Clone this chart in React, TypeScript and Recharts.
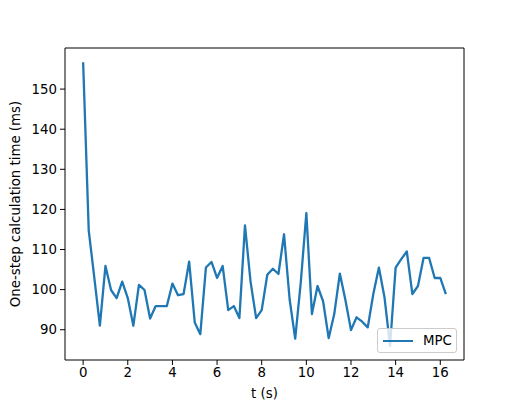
import { LineChart, Line, XAxis, YAxis, Legend, ReferenceLine } from "recharts";

const timeS = [
  0, 0.25, 0.5, 0.75, 1, 1.25, 1.5, 1.75, 2, 2.25, 2.5, 2.75, 3, 3.25, 3.5, 3.75,
  4, 4.25, 4.5, 4.75, 5, 5.25, 5.5, 5.75, 6, 6.25, 6.5, 6.75, 7, 7.25, 7.5, 7.75,
  8, 8.25, 8.5, 8.75, 9, 9.25, 9.5, 9.75, 10, 10.25, 10.5, 10.75, 11, 11.25, 11.5, 11.75,
  12, 12.25, 12.5, 12.75, 13, 13.25, 13.5, 13.75, 14, 14.25, 14.5, 14.75, 15, 15.25, 15.5, 15.75,
  16, 16.25,
];

const mpcMs = [
  156.7, 114.8, 103.0, 91.0, 105.9, 99.9, 97.9, 102.0, 97.9, 91.0, 101.2, 99.9, 92.8, 95.9, 95.9, 95.9,
  101.5, 98.6, 98.9, 107.0, 91.8, 88.9, 105.5, 106.9, 102.9, 105.9, 94.9, 95.9, 92.9, 116.0, 102.0, 92.9,
  94.9, 103.7, 105.2, 103.9, 113.8, 97.6, 87.8, 101.8, 119.1, 93.9, 100.9, 97.1, 87.9, 93.9, 104.0, 97.4,
  89.9, 93.1, 92.0, 90.6, 98.9, 105.5, 98.1, 86.0, 105.5, 107.6, 109.5, 98.9, 100.9, 107.9, 107.9, 102.9,
  102.9, 98.9,
];

const xTicks = [0, 2, 4, 6, 8, 10, 12, 14, 16];
const yTicks = [90, 100, 110, 120, 130, 140, 150];

const data = timeS.map((t, i) => ({ t, mpc: mpcMs[i] }));

const BLUE = "#1f77b4";
const FONT = "'DejaVu Sans', sans-serif";
const xDomain: [number, number] = [-0.8125, 17.0625];
const yDomain: [number, number] = [82.45, 160.25];

const tickStyle = { fill: "#000", fontSize: 13.33, fontFamily: FONT };

const MpcLegend = () => (
  <div
    style={{
      boxSizing: "border-box",
      width: 80,
      height: 25,
      border: "1px solid #cccccc",
      borderRadius: 3,
      background: "rgba(255,255,255,0.8)",
      display: "flex",
      alignItems: "center",
      fontFamily: FONT,
      fontSize: 13.33,
      color: "#000",
    }}
  >
    <div style={{ width: 30, height: 2, background: BLUE, marginLeft: 5 }} />
    <span style={{ marginLeft: 10 }}>MPC</span>
  </div>
);

export default function App() {
  return (
    <div style={{ position: "absolute", left: 0, top: 0, width: 516, height: 404, background: "#fff" }}>
      <LineChart width={516} height={404} data={data} margin={{ top: 48, right: 52, bottom: 14, left: 10 }}>
        <XAxis
          dataKey="t"
          type="number"
          domain={xDomain}
          ticks={xTicks}
          allowDataOverflow
          height={30}
          tick={tickStyle}
          tickSize={5}
          tickMargin={3}
          stroke="#000"
          label={{
            content: (props: any) => {
              const vb = props.viewBox;
              return (
                <text x={vb.x + vb.width / 2} y={vb.y + vb.height + 8} textAnchor="middle" fontSize={13.33} fontFamily={FONT} fill="#000">
                  t (s)
                </text>
              );
            },
          }}
        />
        <YAxis
          type="number"
          domain={yDomain}
          ticks={yTicks}
          allowDataOverflow
          width={55}
          tick={tickStyle}
          tickSize={5}
          tickMargin={3}
          stroke="#000"
          label={{
            content: (props: any) => {
              const vb = props.viewBox;
              const cx = vb.x + 5;
              const cy = vb.y + vb.height / 2;
              return (
                <text
                  x={cx}
                  y={cy}
                  dy="0.35em"
                  transform={`rotate(-90, ${cx}, ${cy})`}
                  textAnchor="middle"
                  fontSize={13.33}
                  fontFamily={FONT}
                  fill="#000"
                >
                  One-step calculation time (ms)
                </text>
              );
            },
          }}
        />
        <ReferenceLine y={yDomain[1]} stroke="#000" strokeWidth={1} ifOverflow="visible" />
        <ReferenceLine x={xDomain[1]} stroke="#000" strokeWidth={1} ifOverflow="visible" />
        <Legend
          layout="horizontal"
          verticalAlign="middle"
          align="center"
          wrapperStyle={{ left: 377, top: 328, width: 80, height: 25 }}
          content={() => <MpcLegend />}
        />
        <Line
          type="linear"
          dataKey="mpc"
          name="MPC"
          stroke={BLUE}
          strokeWidth={2.3}
          strokeLinejoin="round"
          dot={false}
          activeDot={false}
          isAnimationActive={false}
        />
      </LineChart>
    </div>
  );
}
